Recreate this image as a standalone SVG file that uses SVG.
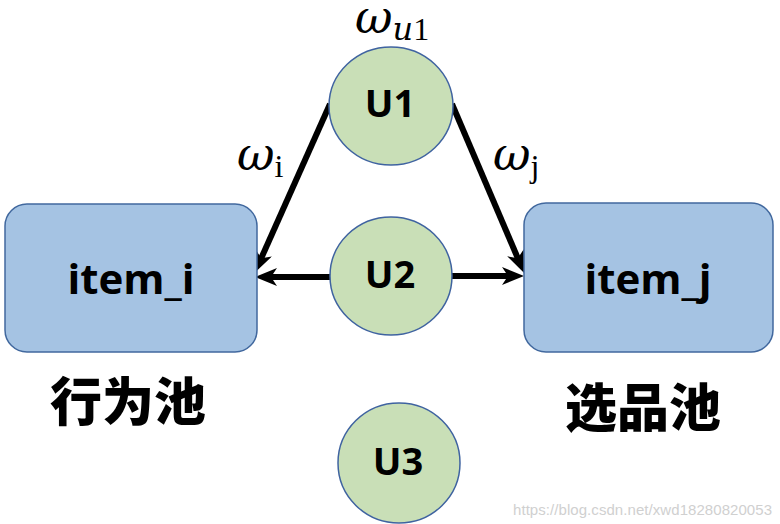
<svg xmlns="http://www.w3.org/2000/svg" width="780" height="524" viewBox="0 0 780 524">
<style>
.c{fill:#C9DFB7;stroke:#3F63A0;stroke-width:1.5}
.b{fill:#A5C3E3;stroke:#41689E;stroke-width:1.5}
.t{font-family:"Open Sans","Noto Sans",sans-serif;font-weight:700;fill:#000;text-anchor:middle}
.zh{font-family:"Noto Sans CJK SC",sans-serif;font-weight:900;font-size:52px;fill:#000;text-anchor:middle}
.w{font-family:"DejaVu Serif","Liberation Serif",serif;font-style:italic;fill:#000}
.s{font-family:"Liberation Serif",serif;fill:#000}
.e{stroke:#000;stroke-width:6;fill:none}
</style>
<defs>
<marker id="ah" markerUnits="userSpaceOnUse" markerWidth="24" markerHeight="20" refX="9" refY="9" orient="auto">
<path d="M0,0 L22,9 L0,18 L6,9 z" fill="#000"/>
</marker>
</defs>
<rect width="780" height="524" fill="#fff"/>
<g id="connectors">
<line class="e" x1="330" y1="104" x2="260" y2="261" marker-end="url(#ah)"/>
<line class="e" x1="452" y1="104" x2="519" y2="261" marker-end="url(#ah)"/>
<line class="e" x1="331" y1="277" x2="268" y2="277" marker-end="url(#ah)"/>
<line class="e" x1="451" y1="276" x2="511" y2="276" marker-end="url(#ah)"/>
</g>
<g id="U1">
<ellipse class="c" cx="391" cy="106" rx="62" ry="59"/>
<text class="t" x="390" y="117" font-size="38">U1</text>
</g>
<g id="U2">
<ellipse class="c" cx="391" cy="276" rx="61" ry="59"/>
<text class="t" x="390" y="288" font-size="38">U2</text>
</g>
<g id="U3">
<ellipse class="c" cx="399" cy="463" rx="61" ry="60"/>
<text class="t" x="398" y="475" font-size="38">U3</text>
</g>
<g id="item_i">
<rect class="b" x="5" y="204" width="252" height="148" rx="22"/>
<text class="t" x="131" y="294" font-size="42">item_i</text>
</g>
<g id="item_j">
<rect class="b" x="524" y="203" width="249" height="149" rx="22"/>
<text class="t" x="648" y="294" font-size="42">item_j</text>
</g>
<g id="labels">
<text class="w" x="355" y="33" font-size="46">ω<tspan font-size="32" dy="7">u</tspan><tspan class="s" font-style="normal" font-size="32">1</tspan></text>
<text class="w" x="237" y="170" font-size="46">ω<tspan class="s" font-style="normal" font-size="32" dy="7">i</tspan></text>
<text class="w" x="493" y="170" font-size="46">ω<tspan class="s" font-style="normal" font-size="32" dy="7">j</tspan></text>
<text class="zh" x="128" y="421">行为池</text>
<text class="zh" x="643" y="427">选品池</text>
<text x="513" y="515" font-family="Liberation Sans,sans-serif" font-size="15" fill="#d0d0d0" textLength="259">https://blog.csdn.net/xwd18280820053</text>
</g>
</svg>
